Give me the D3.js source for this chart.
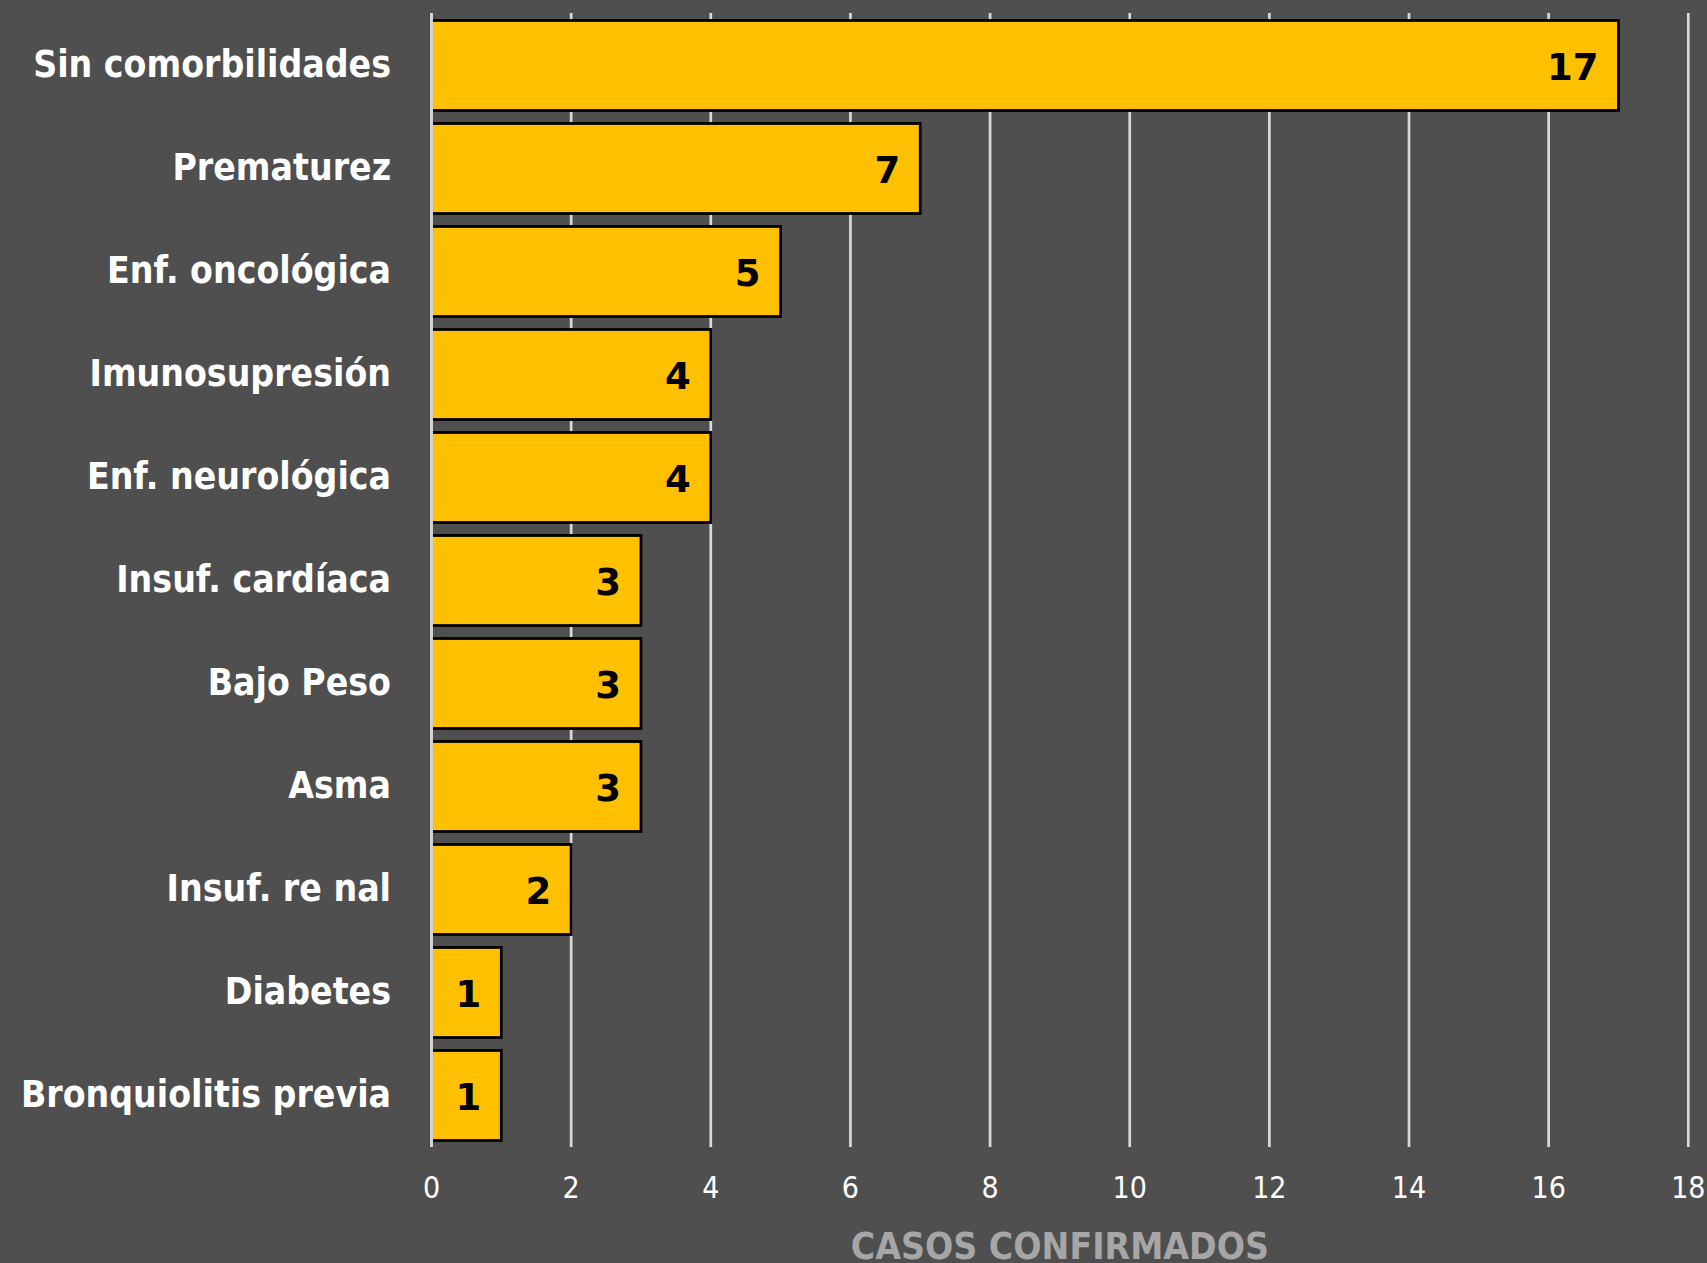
<!DOCTYPE html>
<html>
<head>
<meta charset="utf-8">
<script src="https://cdn.jsdelivr.net/npm/d3@7"></script>
<style>
  html, body { margin: 0; padding: 0; background: #4f4f4f; }
  svg { display: block; }
  .cat { font-family: 'DejaVu Sans Condensed', 'DejaVu Sans', sans-serif; font-stretch: condensed; font-weight: bold; font-size: 37px; fill: #ffffff; }
  .val { font-family: 'DejaVu Sans', sans-serif; font-weight: bold; font-size: 37px; fill: #000000; }
  .tick-label { font-family: 'DejaVu Sans Condensed', 'DejaVu Sans', sans-serif; font-stretch: condensed; font-size: 30px; fill: #ffffff; }
  .axis-title { font-family: 'DejaVu Sans Condensed', 'DejaVu Sans', sans-serif; font-stretch: condensed; font-weight: bold; font-size: 37px; fill: #a6a6a6; }
</style>
</head>
<body>
<script>
// Comorbidities among confirmed cases
const categories = [
  "Sin comorbilidades",
  "Prematurez",
  "Enf. oncológica",
  "Imunosupresión",
  "Enf. neurológica",
  "Insuf. cardíaca",
  "Bajo Peso",
  "Asma",
  "Insuf. re nal",
  "Diabetes",
  "Bronquiolitis previa"
];
const casos = [17, 7, 5, 4, 4, 3, 3, 3, 2, 1, 1];
const xTicks = [0, 2, 4, 6, 8, 10, 12, 14, 16, 18];
const axisTitle = "CASOS CONFIRMADOS";

const W = 1707, H = 1263;
const margin = { top: 14, right: 18.7, bottom: 116, left: 431.5 };

const svg = d3.select("body").append("svg")
  .attr("width", W).attr("height", H);

svg.append("rect").attr("width", W).attr("height", H).attr("fill", "#4f4f4f");

const x = d3.scaleLinear()
  .domain([0, 18])
  .range([margin.left, W - margin.right]);

const y = d3.scaleBand()
  .domain(categories)
  .range([margin.top, H - margin.bottom])
  .paddingInner(0.126)
  .paddingOuter(0.063);

// vertical gridlines (except zero, drawn over the bars)
svg.append("g").selectAll("line")
  .data(xTicks.filter(t => t !== 0))
  .join("line")
  .attr("x1", d => x(d)).attr("x2", d => x(d))
  .attr("y1", 13).attr("y2", H - margin.bottom)
  .attr("stroke", "#d9d9d9").attr("stroke-width", 2.7);

// bars
svg.append("g").selectAll("rect")
  .data(categories)
  .join("rect")
  .attr("x", x(0))
  .attr("y", d => y(d))
  .attr("width", (d, i) => x(casos[i]) - x(0))
  .attr("height", y.bandwidth())
  .attr("fill", "#FFC000")
  .attr("stroke", "#000000")
  .attr("stroke-width", 2.8);

// zero line
svg.append("line")
  .attr("x1", x(0)).attr("x2", x(0))
  .attr("y1", 13).attr("y2", H - margin.bottom)
  .attr("stroke", "#d9d9d9").attr("stroke-width", 2.9);

// value labels inside the bar ends
svg.append("g").selectAll("text")
  .data(categories)
  .join("text")
  .attr("class", "val")
  .attr("text-anchor", "end")
  .attr("x", (d, i) => x(casos[i]) - 20)
  .attr("y", d => y(d) + y.bandwidth() / 2 + 14.5)
  .text((d, i) => casos[i]);

// category labels
svg.append("g").selectAll("text")
  .data(categories)
  .join("text")
  .attr("class", "cat")
  .attr("text-anchor", "end")
  .attr("x", 391)
  .attr("y", d => y(d) + y.bandwidth() / 2 + 11)
  .text(d => d);

// x tick labels
svg.append("g").selectAll("text")
  .data(xTicks)
  .join("text")
  .attr("class", "tick-label")
  .attr("text-anchor", "middle")
  .attr("x", d => x(d))
  .attr("y", 1198)
  .text(d => d);

// axis title
svg.append("text")
  .attr("class", "axis-title")
  .attr("text-anchor", "middle")
  .attr("x", (x(0) + x(18)) / 2)
  .attr("y", 1259)
  .text(axisTitle);
</script>
</body>
</html>
